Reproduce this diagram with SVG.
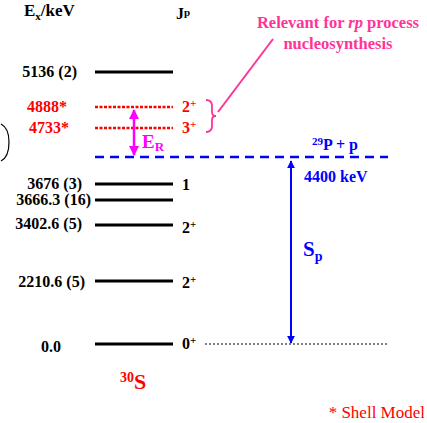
<svg xmlns="http://www.w3.org/2000/svg" width="427" height="423" viewBox="0 0 427 423">
<defs>
<style>
.t{font-family:"Liberation Serif","Times New Roman",serif;font-weight:bold;font-size:16px;fill:#000}
.r{fill:#ff0000}
.b{fill:#0000ff}
.m{fill:#ff00ff}
.p{fill:#ff3399}
.lv{stroke:#000;stroke-width:3;fill:none}
.ld{stroke:#ff0000;stroke-width:2.5;stroke-dasharray:3 1.5;fill:none}
.sup{font-size:11px}
</style>
<marker id="ab" viewBox="0 0 10 10" refX="9" refY="5" markerWidth="4" markerHeight="4" orient="auto-start-reverse"><path d="M0,0L10,5L0,10z" fill="#0000ff"/></marker>
<marker id="am" viewBox="0 0 10 10" refX="9" refY="5" markerWidth="4" markerHeight="4" orient="auto-start-reverse"><path d="M0,0L10,5L0,10z" fill="#ff00ff"/></marker>
</defs>
<rect width="427" height="423" fill="#fff"/>
<g id="headers">
<text class="t" x="24" y="16" style="font-size:17px">E<tspan style="font-size:11px" dy="4">x</tspan><tspan dy="-4">/keV</tspan></text>
<text class="t" x="176" y="19">J<tspan class="sup" dy="-3">p</tspan></text>
</g>
<g id="level-5136"><line class="lv" x1="95" y1="72" x2="173" y2="72"/><text class="t" x="77" y="77" text-anchor="end">5136 (2)</text></g>
<g id="level-4888"><line class="ld" x1="95" y1="107" x2="173" y2="107"/><text class="t r" x="67" y="112" text-anchor="end">4888*</text><text class="t r" x="182" y="112">2<tspan class="sup" dy="-5">+</tspan></text></g>
<g id="level-4733"><line class="ld" x1="95" y1="128" x2="173" y2="128"/><text class="t r" x="69" y="133" text-anchor="end">4733*</text><text class="t r" x="182" y="133">3<tspan class="sup" dy="-5">+</tspan></text></g>
<g id="threshold"><line x1="95" y1="157" x2="388" y2="157" stroke="#0000ff" stroke-width="2.5" stroke-dasharray="9 6"/><text class="t b" x="312" y="150"><tspan class="sup" dy="-5">29</tspan><tspan dy="5">P + p</tspan></text><text class="t b" x="304" y="182">4400 keV</text></g>
<g id="level-3676"><line class="lv" x1="95" y1="184" x2="173" y2="184"/><text class="t" x="82" y="189" text-anchor="end">3676 (3)</text><text class="t" x="182" y="190">1</text></g>
<g id="level-3666"><line class="lv" x1="95" y1="200" x2="173" y2="200"/><text class="t" x="91" y="205" text-anchor="end">3666.3 (16)</text></g>
<g id="level-3402"><line class="lv" x1="95" y1="225" x2="173" y2="225"/><text class="t" x="82" y="229" text-anchor="end">3402.6 (5)</text><text class="t" x="182" y="233">2<tspan class="sup" dy="-5">+</tspan></text></g>
<g id="level-2210"><line class="lv" x1="95" y1="281" x2="173" y2="281"/><text class="t" x="85" y="287" text-anchor="end">2210.6 (5)</text><text class="t" x="182" y="288">2<tspan class="sup" dy="-5">+</tspan></text></g>
<g id="level-0"><line class="lv" x1="95" y1="344" x2="173" y2="344"/><text class="t" x="41" y="352">0.0</text><text class="t" x="182" y="349">0<tspan class="sup" dy="-5">+</tspan></text></g>
<g id="connectors">
<line x1="205" y1="344" x2="388" y2="344" stroke="#000" stroke-width="1.2" stroke-dasharray="2 2"/>
<line x1="134" y1="110" x2="134" y2="155" stroke="#ff00ff" stroke-width="2.5" marker-start="url(#am)" marker-end="url(#am)"/>
<line x1="291" y1="161" x2="291" y2="343" stroke="#0000ff" stroke-width="2" marker-start="url(#ab)" marker-end="url(#ab)"/>
<line x1="218" y1="112" x2="273" y2="39" stroke="#ff3399" stroke-width="2"/>
<path d="M206,100 Q212,100 212,106 L212,112 Q212,116 216,116 Q212,116 212,120 L212,126 Q212,132 206,132" fill="none" stroke="#ff3399" stroke-width="1.8"/>
<path d="M1,124 Q9,128 9,142 Q9,157 1,161" fill="none" stroke="#000" stroke-width="1.2"/>
</g>
<g id="labels">
<text class="t m" x="142" y="148" style="font-size:19px">E<tspan style="font-size:13px" dy="3">R</tspan></text>
<text class="t b" x="303" y="256" style="font-size:21px">S<tspan style="font-size:14px" dy="5">p</tspan></text>
<text class="t p" x="338" y="28" text-anchor="middle" style="font-size:16.5px">Relevant for <tspan font-style="italic">rp</tspan> process</text>
<text class="t p" x="338" y="49" text-anchor="middle" style="font-size:16.5px">nucleosynthesis</text>
<text class="t r" x="120" y="389" style="font-size:22px"><tspan style="font-size:14px" dy="-7">30</tspan><tspan dy="7">S</tspan></text>
<text x="425" y="418" text-anchor="end" font-family="Liberation Serif, serif" font-size="17" fill="#ff0000">* Shell Model</text>
</g>
</svg>
